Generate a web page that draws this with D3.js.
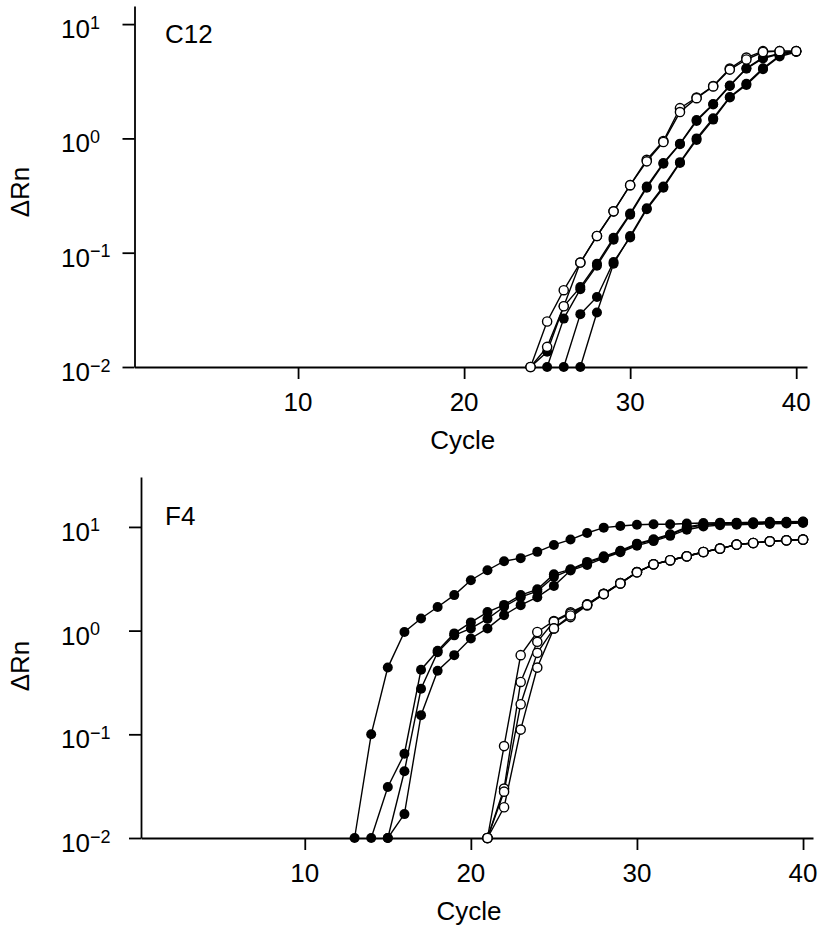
<!DOCTYPE html>
<html>
<head>
<meta charset="utf-8">
<script src="https://cdn.jsdelivr.net/npm/d3@7"></script>
<style>
    body { margin: 0; background: #fff; }
    svg { display: block; font-family: "Liberation Sans", Arial, Helvetica, sans-serif; }
</style>
</head>
<body>
<svg id="drawing_region"></svg>
<script>
// tick values (shared by both panels)
const x_ticks = [10, 20, 30, 40];
const y_ticks = [0.01, 0.1, 1, 10];
const y_tick_exps = ['\u22122', '\u22121', '0', '1'];

// ---- C12 panel: first cycle of each curve, then dRn per cycle ----
const c12_open_starts = [24, 24];
const c12_open_a = [0.01, 0.025, 0.047, 0.082, 0.14, 0.23, 0.39, 0.65, 0.95, 1.84, 2.28, 2.87, 4.08, 5.1, 5.8, 5.8, 5.8];
const c12_open_b = [0.01, 0.015, 0.034, 0.082, 0.14, 0.23, 0.39, 0.63, 0.93, 1.7, 2.25, 2.85, 4.0, 4.9, 5.7, 5.8, 5.8];

const c12_filled_starts = [24, 25, 26, 27];
const c12_filled_a = [0.01, 0.0136, 0.034, 0.05, 0.08, 0.135, 0.22, 0.38, 0.61, 0.9, 1.45, 2.0, 2.9, 4.1, 5.1, 5.5, 5.8];
const c12_filled_b = [0.01, 0.0265, 0.048, 0.077, 0.13, 0.215, 0.37, 0.6, 0.89, 1.42, 1.98, 2.87, 4.08, 5.0, 5.5, 5.8];
const c12_filled_c = [0.01, 0.029, 0.041, 0.083, 0.136, 0.24, 0.37, 0.61, 0.97, 1.46, 2.28, 2.93, 4.03, 5.2, 5.7];
const c12_filled_d = [0.01, 0.030, 0.08, 0.14, 0.245, 0.38, 0.62, 1.0, 1.5, 2.3, 3.0, 4.1, 5.3, 5.8];

// ---- F4 panel ----
const f4_filled_starts = [13, 14, 15, 15];
const f4_filled_a = [0.01, 0.1, 0.44, 0.97, 1.31, 1.69, 2.2, 3.06, 3.82, 4.67, 5.0, 5.75, 6.7, 7.55, 8.74, 9.84, 10.2, 10.5, 10.6, 10.6, 10.8, 10.9, 11.0, 11.0, 11.1, 11.2, 11.2, 11.3];
const f4_filled_b = [0.01, 0.031, 0.065, 0.42, 0.64, 0.94, 1.2, 1.51, 1.77, 2.2, 2.5, 3.5, 3.9, 4.6, 5.2, 5.9, 6.9, 7.6, 8.5, 10.0, 10.6, 10.8, 10.9, 11.0, 11.0, 11.1, 11.2];
const f4_filled_c = [0.01, 0.044, 0.275, 0.62, 0.9, 1.05, 1.3, 1.7, 2.1, 2.4, 3.3, 3.85, 4.5, 5.1, 5.8, 6.8, 7.5, 8.4, 9.8, 10.4, 10.6, 10.7, 10.8, 10.9, 11.0, 11.1];
const f4_filled_d = [0.01, 0.017, 0.153, 0.41, 0.58, 0.84, 1.05, 1.41, 1.76, 2.1, 2.7, 3.8, 4.3, 5.0, 5.7, 6.6, 7.3, 8.2, 9.4, 10.1, 10.4, 10.5, 10.6, 10.7, 10.8, 10.9];

const f4_open_starts = [21, 21, 21, 21];
const f4_open_a = [0.01, 0.077, 0.58, 0.97, 1.24, 1.5, 1.79, 2.27, 2.88, 3.67, 4.36, 4.77, 5.21, 5.73, 6.18, 6.75, 7.0, 7.26, 7.43, 7.55];
const f4_open_b = [0.01, 0.030, 0.32, 0.78, 1.22, 1.46, 1.79, 2.27, 2.88, 3.67, 4.36, 4.77, 5.21, 5.73, 6.18, 6.75, 7.0, 7.26, 7.43, 7.55];
const f4_open_c = [0.01, 0.028, 0.195, 0.61, 1.05, 1.35, 1.75, 2.25, 2.85, 3.65, 4.36, 4.77, 5.21, 5.73, 6.18, 6.75, 7.0, 7.26, 7.43, 7.55];
const f4_open_d = [0.01, 0.0198, 0.111, 0.44, 1.05, 1.4, 1.77, 2.25, 2.85, 3.65, 4.36, 4.77, 5.21, 5.73, 6.18, 6.75, 7.0, 7.26, 7.43, 7.55];

function to_points( start, values ) {
    return values.map( (v, i) => ({ cycle: start + i, value: v }) );
}

const svg = d3.select('#drawing_region')
    .attr('width', 819)
    .attr('height', 931);

class AmpPanel {

    constructor( config, filled, open ) {
        this.config = config;
        this.filled = filled;
        this.open = open;
        this.init();
    }

    init() {
        let self = this;
        const c = self.config;

        self.chart = svg.append('g');

        self.xscale = d3.scaleLinear()
            .domain( c.xdomain )
            .range( [c.left, c.right] );

        self.yscale = d3.scaleLog()
            .domain( c.ydomain )
            .range( [c.bottom, c.top] );

        self.xaxis = d3.axisBottom( self.xscale )
            .tickValues( x_ticks )
            .tickSize(12)
            .tickSizeOuter(0)
            .tickFormat('');

        self.yaxis = d3.axisLeft( self.yscale )
            .tickValues( y_ticks )
            .tickSize(12)
            .tickSizeOuter(0)
            .tickFormat('');
    }

    render() {
        let self = this;
        const c = self.config;

        self.chart.append('g')
            .attr('transform', `translate(0, ${c.bottom})`)
            .call( self.xaxis );
        self.chart.append('g')
            .attr('transform', `translate(${c.left}, 0)`)
            .call( self.yaxis );

        self.chart.selectAll('.domain, .tick line')
            .attr('stroke', '#000')
            .attr('stroke-width', 1.8);

        // x tick labels
        self.chart.selectAll('.xlab')
            .data( x_ticks )
            .join('text')
            .attr('class', 'xlab')
            .attr('x', d => self.xscale(d))
            .attr('y', c.bottom + 44)
            .attr('text-anchor', 'middle')
            .attr('font-size', 26)
            .text( d => d );

        // y tick labels as 10 with a raised exponent
        const ylab = self.chart.selectAll('.ylab')
            .data( y_ticks )
            .join('text')
            .attr('class', 'ylab')
            .attr('x', 61)
            .attr('y', d => self.yscale(d) + 14)
            .attr('font-size', 26);
        ylab.append('tspan').text('10');
        ylab.append('tspan')
            .attr('font-size', 18)
            .attr('dy', -9.5)
            .text( (d, i) => y_tick_exps[i] );

        self.chart.append('text')
            .attr('x', (c.left + c.right) / 2 - 8)
            .attr('y', c.bottom + 82)
            .attr('text-anchor', 'middle')
            .attr('font-size', 26)
            .text('Cycle');

        self.chart.append('text')
            .attr('transform', `translate(29, ${c.ylabel_y}) rotate(-90)`)
            .attr('text-anchor', 'middle')
            .attr('font-size', 26)
            .text('\u0394Rn');

        self.chart.append('text')
            .attr('x', 165)
            .attr('y', c.title_y)
            .attr('font-size', 26)
            .text( c.title );

        const line = d3.line()
            .x( d => self.xscale(d.cycle) )
            .y( d => self.yscale(d.value) );

        const all = self.filled.concat( self.open );
        self.chart.selectAll('.curve')
            .data( all )
            .join('path')
            .attr('class', 'curve')
            .attr('d', line)
            .attr('fill', 'none')
            .attr('stroke', '#000')
            .attr('stroke-width', 1.4);

        self.chart.selectAll('.dot_f')
            .data( self.filled.flat() )
            .join('circle')
            .attr('class', 'dot_f')
            .attr('cx', d => self.xscale(d.cycle))
            .attr('cy', d => self.yscale(d.value))
            .attr('r', 5)
            .attr('fill', '#000');

        self.chart.selectAll('.dot_o')
            .data( self.open.flat() )
            .join('circle')
            .attr('class', 'dot_o')
            .attr('cx', d => self.xscale(d.cycle))
            .attr('cy', d => self.yscale(d.value))
            .attr('r', 4.6)
            .attr('fill', '#fff')
            .attr('stroke', '#000')
            .attr('stroke-width', 1.4);
    }
}

const c12 = new AmpPanel(
    { title: 'C12', title_y: 43, ylabel_y: 192,
      left: 134.5, right: 807, top: 6, bottom: 367,
      xdomain: [0.15, 40.65], ydomain: [0.01, 14.4] },
    [c12_filled_a, c12_filled_b, c12_filled_c, c12_filled_d].map( (v, i) => to_points(c12_filled_starts[i], v) ),
    [c12_open_a, c12_open_b].map( (v, i) => to_points(c12_open_starts[i], v) )
);
c12.render();

const f4 = new AmpPanel(
    { title: 'F4', title_y: 525, ylabel_y: 666,
      left: 141, right: 813, top: 477, bottom: 838,
      xdomain: [0.14, 40.6], ydomain: [0.01, 30.3] },
    [f4_filled_a, f4_filled_b, f4_filled_c, f4_filled_d].map( (v, i) => to_points(f4_filled_starts[i], v) ),
    [f4_open_a, f4_open_b, f4_open_c, f4_open_d].map( (v, i) => to_points(f4_open_starts[i], v) )
);
f4.render();
</script>
</body>
</html>
